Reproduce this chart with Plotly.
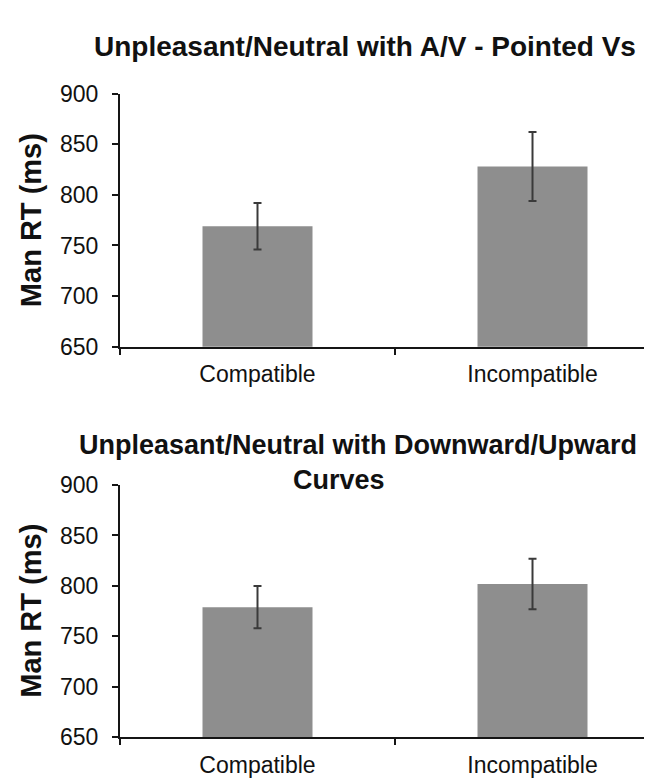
import plotly.graph_objects as go

categories = ["Compatible", "Incompatible"]
top_means = [769, 828]
top_errors = [23, 34]
bottom_means = [779, 802]
bottom_errors = [21, 25]
y_ticks = [650, 700, 750, 800, 850, 900]
top_title = "Unpleasant/Neutral with A/V - Pointed Vs"
bottom_title_1 = "Unpleasant/Neutral with Downward/Upward"
bottom_title_2 = "Curves"
y_label = "Man RT (ms)"

W, H = 652, 781
FONT = "Liberation Sans, Arial, sans-serif"
BAR = "#8e8e8e"
AX = "#151515"

def py(px):
    return 1 - px / H

fig = go.Figure()
fig.add_trace(go.Bar(x=categories, y=top_means, width=0.4, marker=dict(color=BAR, line=dict(width=0)),
                     error_y=dict(type="data", array=top_errors, color="#3a3a3a", thickness=2, width=4),
                     xaxis="x", yaxis="y", showlegend=False))
fig.add_trace(go.Bar(x=categories, y=bottom_means, width=0.4, marker=dict(color=BAR, line=dict(width=0)),
                     error_y=dict(type="data", array=bottom_errors, color="#3a3a3a", thickness=2, width=4),
                     xaxis="x2", yaxis="y2", showlegend=False))

xcommon = dict(type="category", range=[-0.5, 1.4636], domain=[112 / W, 1], showline=True, linecolor=AX,
               linewidth=2, ticks="outside", tickson="boundaries", ticklen=6, tickwidth=2, tickcolor=AX,
               showgrid=False, zeroline=False, tickfont=dict(family=FONT, size=23, color="#111"),
               ticklabelstandoff=6, fixedrange=True)
ycommon = dict(range=[650, 900], tickvals=y_ticks, showline=True, linecolor=AX, linewidth=2,
               ticks="outside", ticklen=6, tickwidth=2, tickcolor=AX, showgrid=False, zeroline=False,
               tickfont=dict(family=FONT, size=23, color="#111"), ticklabelstandoff=9, fixedrange=True)

fig.update_layout(
    width=W, height=H, margin=dict(l=0, r=0, t=0, b=0, pad=0),
    paper_bgcolor="white", plot_bgcolor="white", bargap=0.6,
    xaxis=dict(anchor="y", **xcommon),
    yaxis=dict(anchor="x", domain=[py(337), py(75)], **ycommon),
    xaxis2=dict(anchor="y2", **xcommon),
    yaxis2=dict(anchor="x2", domain=[py(741), py(480)], **ycommon),
)

ann = []
ann.append(dict(text="<b>%s</b>" % top_title, x=357 / W, y=py(26), xref="paper", yref="paper",
                xanchor="center", yanchor="middle", showarrow=False,
                font=dict(family=FONT, size=28, color="#111")))
ann.append(dict(text="<b>%s</b>" % bottom_title_1, x=350 / W, y=py(439), xref="paper", yref="paper",
                xanchor="center", yanchor="middle", showarrow=False,
                font=dict(family=FONT, size=27, color="#111")))
ann.append(dict(text="<b>%s</b>" % bottom_title_2, x=331 / W, y=py(475), xref="paper", yref="paper",
                xanchor="center", yanchor="middle", showarrow=False,
                font=dict(family=FONT, size=27, color="#111")))
for yc in (206, 610):
    ann.append(dict(text="<b>%s</b>" % y_label, x=23 / W, y=py(yc), xref="paper", yref="paper",
                    xanchor="center", yanchor="middle", textangle=-90, showarrow=False,
                    font=dict(family=FONT, size=29, color="#111")))
fig.update_layout(annotations=ann)

fig.write_html("out.html", config={"displayModeBar": False})
